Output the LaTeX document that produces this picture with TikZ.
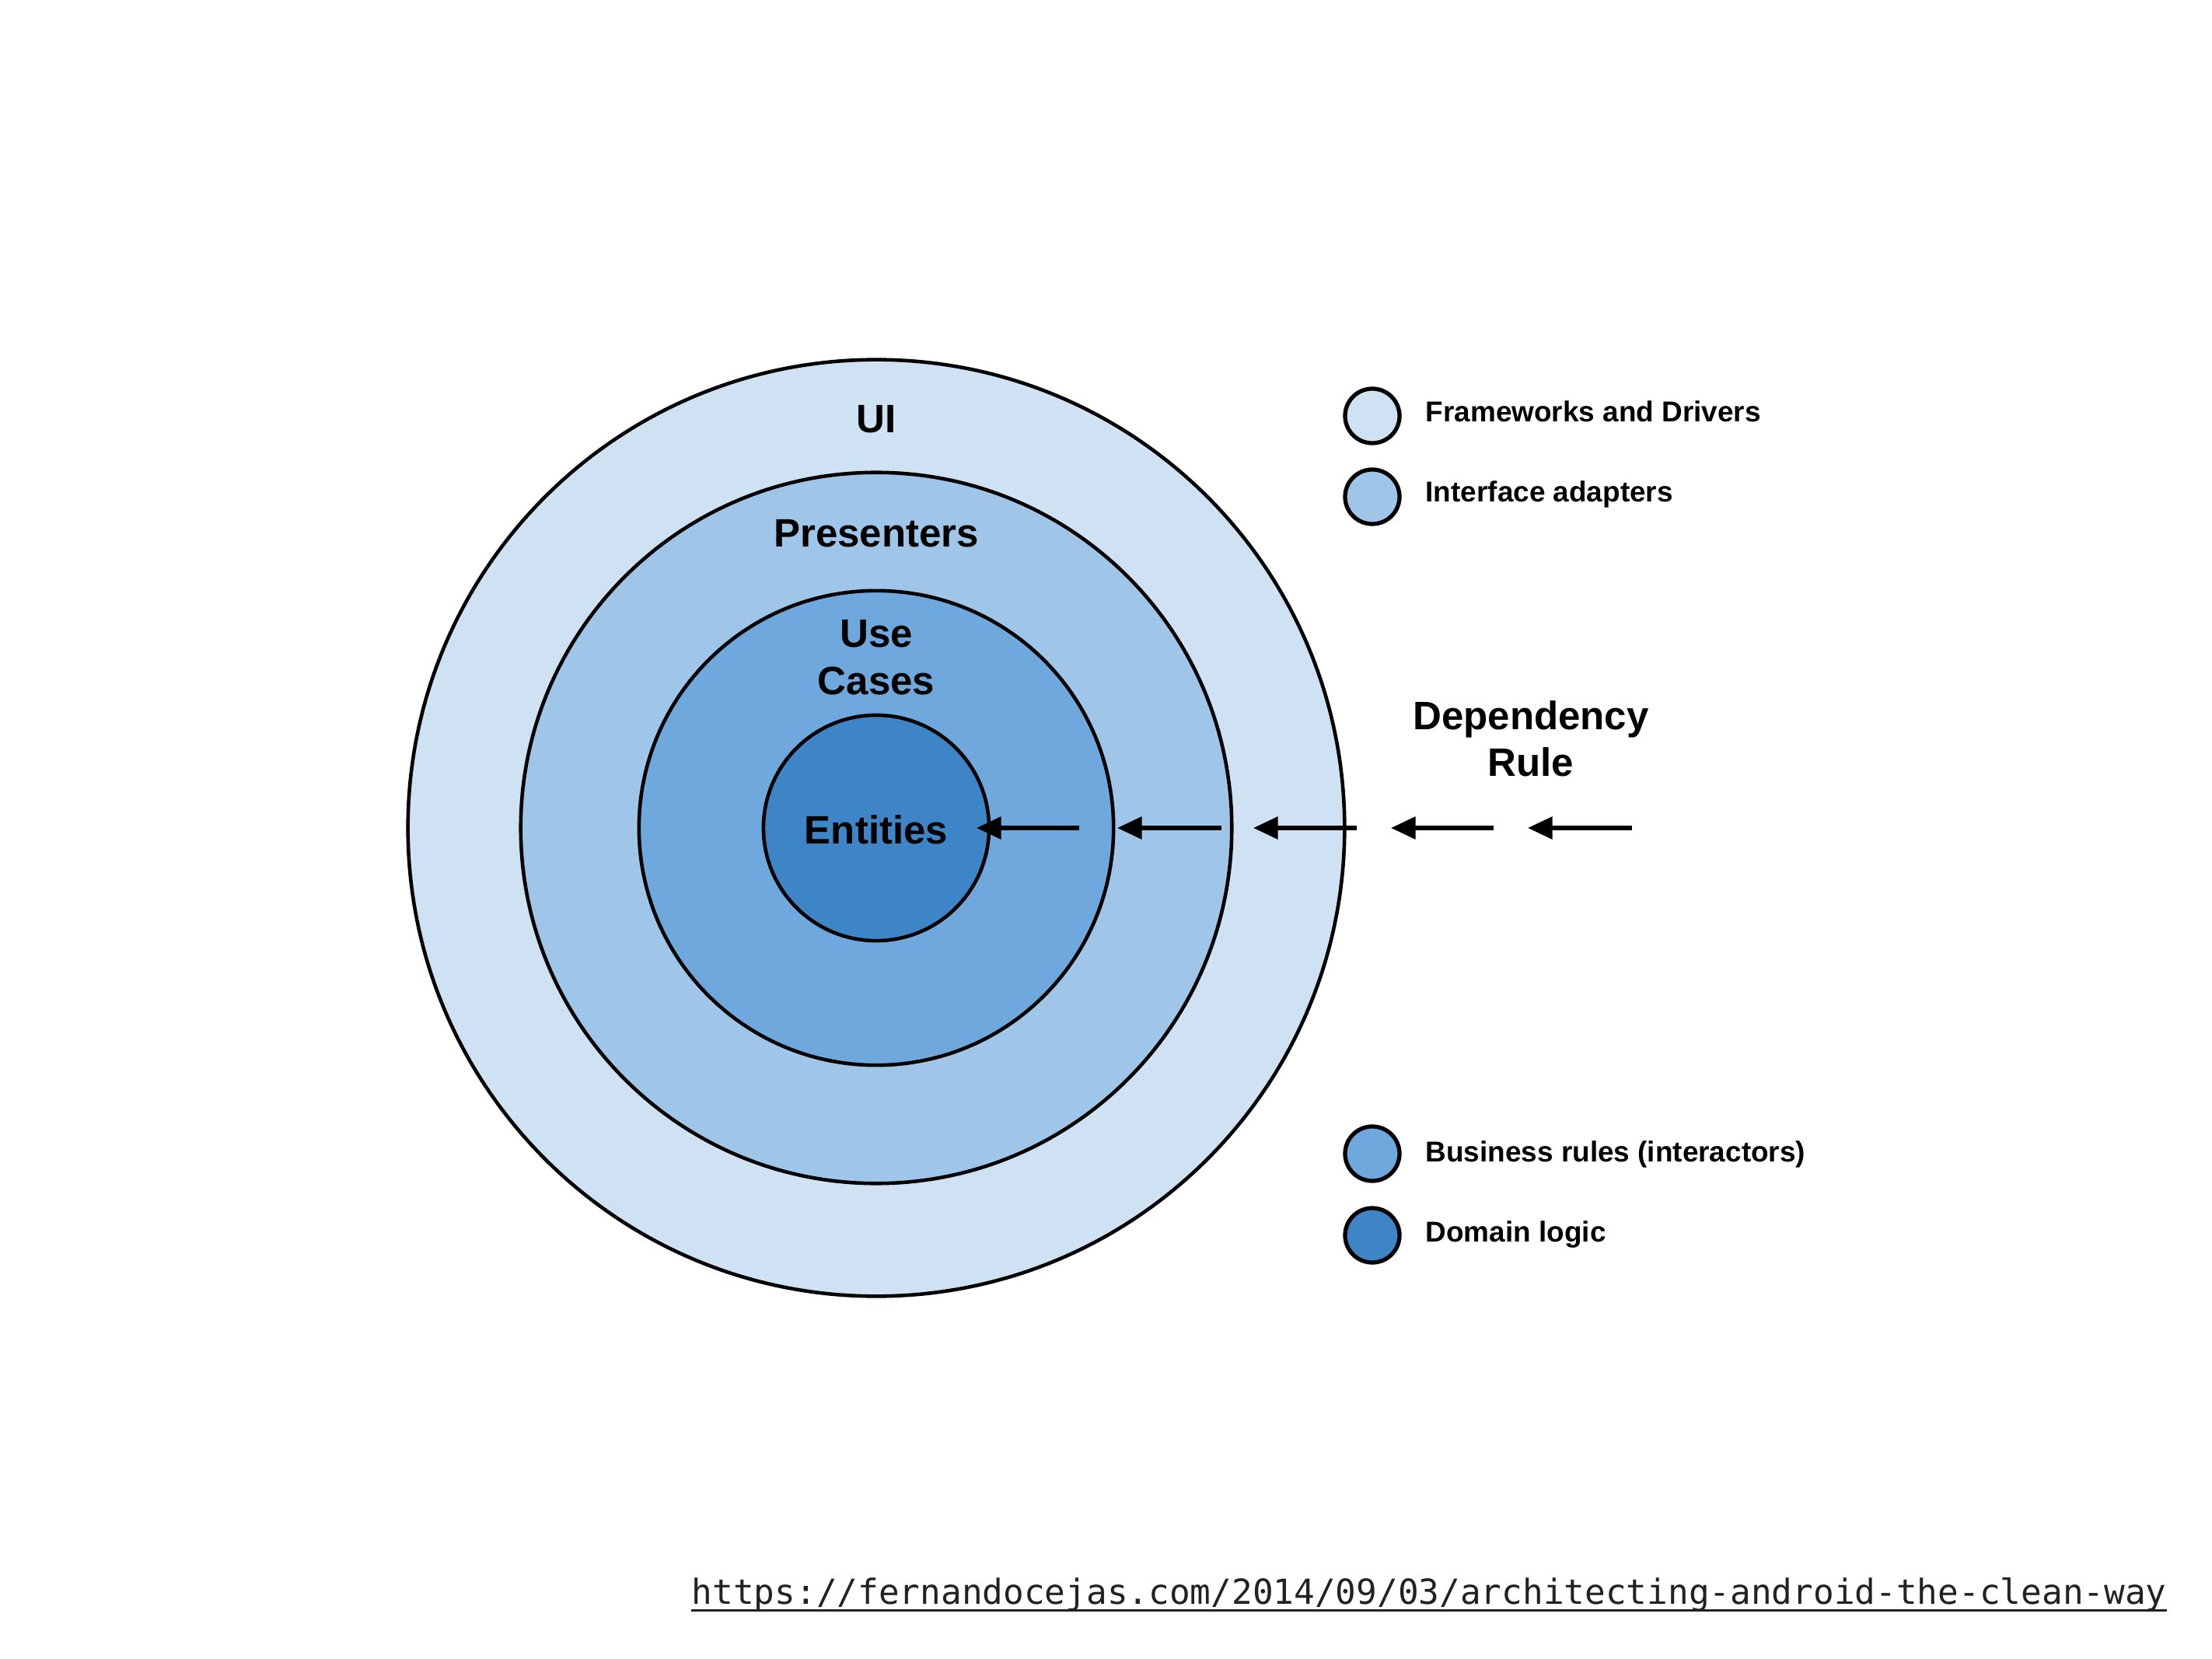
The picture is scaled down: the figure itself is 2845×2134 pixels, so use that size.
\documentclass[tikz,border=0pt]{standalone}
\usepackage{fontspec}
\setmainfont{Liberation Sans}
\setmonofont{DejaVu Sans Mono}
\usetikzlibrary{arrows.meta}
\definecolor{cfw}{HTML}{CFE2F3}
\definecolor{cia}{HTML}{9FC5E8}
\definecolor{cbr}{HTML}{6FA8DC}
\definecolor{cdl}{HTML}{3D85C6}
\definecolor{urlgray}{HTML}{222222}
\begin{document}
\begin{tikzpicture}[x=0.01cm,y=-0.01cm,
  ring/.style={circle,draw=black,line width=1.3pt,inner sep=0pt,minimum size=#1},
  biglabel/.style={font=\fontsize{14.5}{17}\selectfont\bfseries,align=center,inner sep=0pt,anchor=base},
  legdot/.style={circle,draw=black,line width=1.5pt,inner sep=0pt,minimum size=0.70cm},
  legtext/.style={font=\fontsize{10.5}{12}\selectfont\bfseries,inner sep=0pt,anchor=base west},
  deparrow/.style={line width=1.6pt,-{Triangle[length=9pt,width=8pt]}}
]
\useasboundingbox[fill=white] (0,0) rectangle (2845,2134);

% rings
\node[ring=12.04cm,fill=cfw] (fw) at (1127,1065) {};
\node[ring=9.14cm,fill=cia] (ia) at (1127,1065) {};
\node[ring=6.10cm,fill=cbr] (br) at (1127,1065) {};
\node[ring=2.90cm,fill=cdl] (dl) at (1127,1065) {};

% ring labels
\node[biglabel] (ui) at (1127,557) {UI};
\node[biglabel] (pres) at (1127,704) {Presenters};
\node[biglabel] (use) at (1127,833) {Use};
\node[biglabel] (cases) at (1127,893) {Cases};
\node[biglabel] (ent) at (1127,1085) {Entities};
\node[biglabel] (dep) at (1969,938) {Dependency};
\node[biglabel] (rule) at (1969,998) {Rule};

% dependency arrows
\coordinate (a1t) at (1388,1065); \coordinate (a1h) at (1256,1065);
\coordinate (a2t) at (1571,1065); \coordinate (a2h) at (1437,1065);
\coordinate (a3t) at (1745,1065); \coordinate (a3h) at (1612,1065);
\coordinate (a4t) at (1921,1065); \coordinate (a4h) at (1789,1065);
\coordinate (a5t) at (2099,1065); \coordinate (a5h) at (1965,1065);
\draw[deparrow] (a1t) -- (a1h);
\draw[deparrow] (a2t) -- (a2h);
\draw[deparrow] (a3t) -- (a3h);
\draw[deparrow] (a4t) -- (a4h);
\draw[deparrow] (a5t) -- (a5h);

% legend
\node[legdot,fill=cfw] (l1) at (1765,535) {};
\node[legdot,fill=cia] (l2) at (1765,639) {};
\node[legdot,fill=cbr] (l3) at (1765,1484) {};
\node[legdot,fill=cdl] (l4) at (1765,1589) {};
\node[legtext] (t1) at (1833,543) {Frameworks and Drivers};
\node[legtext] (t2) at (1833,646) {Interface adapters};
\node[legtext] (t3) at (1833,1494) {Business rules (interactors)};
\node[legtext] (t4) at (1833,1597) {Domain logic};

% url
\node[inner sep=0pt,anchor=base west,text=urlgray,font=\fontsize{12.62}{14}\selectfont\ttfamily] (url) at (889,2063)
  {https://fernandocejas.com/2014/09/03/architecting-android-the-clean-way};
\draw[urlgray,line width=0.9pt] ([yshift=-2.5pt]url.base west) -- ([yshift=-2.5pt]url.base east);
\end{tikzpicture}
\end{document}
